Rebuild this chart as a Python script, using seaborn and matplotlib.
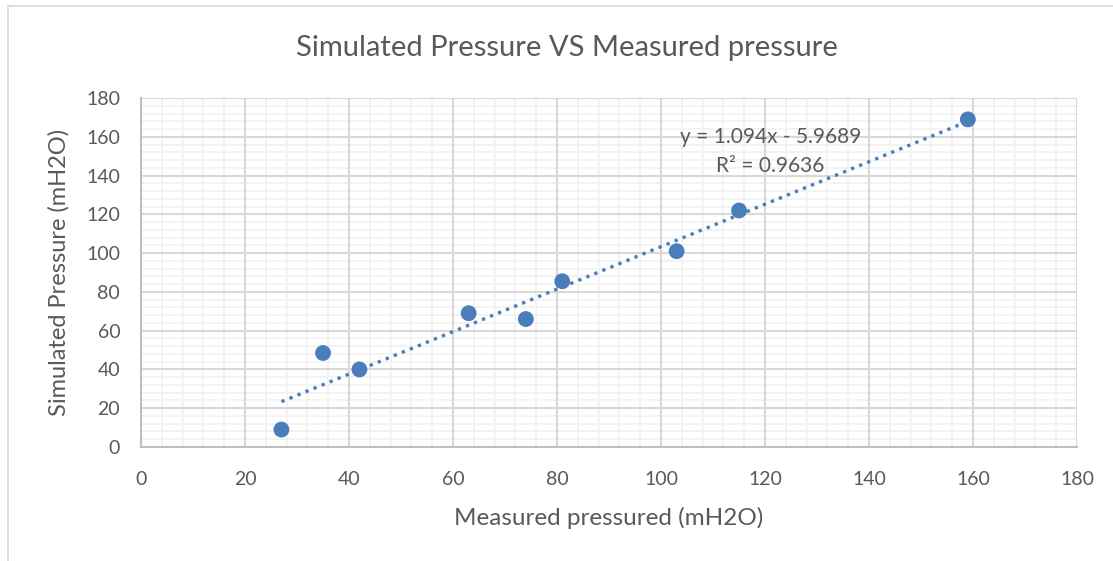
import numpy as np
import pandas as pd
import matplotlib
matplotlib.use('Agg')
import matplotlib.pyplot as plt
import seaborn as sns
from matplotlib.ticker import MultipleLocator
from matplotlib.patches import Rectangle

measured = [27, 35, 42, 63, 74, 81, 103, 115, 159]
simulated = [9, 48.5, 40, 69, 66, 85.5, 101, 122, 169]
equation_text = 'y = 1.094x - 5.9689'
r2_text = 'R² = 0.9636'

blue = '#4A7EBB'
text_grey = '#595959'

sns.set_style('white')
plt.rcParams['font.family'] = ['Lato', 'DejaVu Sans']

df = pd.DataFrame({'measured': measured, 'simulated': simulated})

fig = plt.figure(figsize=(11.13, 5.61), dpi=100)
ax = fig.add_axes([0.1267, 0.2032, 0.841, 0.622])

# chart frame
fig.patches.append(Rectangle((0.007, -0.05), 1.1, 1.04, transform=fig.transFigure,
                             fill=False, edgecolor='#D9D9D9', linewidth=1.2))

sns.regplot(data=df, x='measured', y='simulated', scatter=False, ci=None,
            truncate=True, ax=ax,
            line_kws={'color': blue, 'linestyle': (0, (1, 1.6)), 'linewidth': 2.4})
sns.scatterplot(data=df, x='measured', y='simulated', color=blue, s=130,
                edgecolor='none', ax=ax, zorder=4)

ax.set_xlim(0, 180)
ax.set_ylim(0, 180)
ax.xaxis.set_major_locator(MultipleLocator(20))
ax.yaxis.set_major_locator(MultipleLocator(20))
ax.xaxis.set_minor_locator(MultipleLocator(4))
ax.yaxis.set_minor_locator(MultipleLocator(4))
ax.grid(which='minor', color='#F2F2F2', linewidth=1.3)
ax.set_axisbelow(True)

# major gridlines drawn on top of the minor ones so they stay solid
for t in ax.get_xticks():
    ax.axvline(t, color='#D9D9D9', linewidth=1.5, zorder=0.9)
for t in ax.get_yticks():
    ax.axhline(t, color='#D9D9D9', linewidth=1.5, zorder=0.9)

for side in ['top', 'right']:
    ax.spines[side].set_visible(False)
for side in ['left', 'bottom']:
    ax.spines[side].set_color('#BFBFBF')
    ax.spines[side].set_linewidth(1.5)

ax.tick_params(which='both', length=0, labelsize=14, colors=text_grey)
ax.tick_params(axis='x', pad=17)
ax.tick_params(axis='y', pad=15)
ax.set_xlabel('Measured pressured (mH2O)', fontsize=17.5, color=text_grey, labelpad=14)
ax.set_ylabel('Simulated Pressure (mH2O)', fontsize=17, color=text_grey, labelpad=12)
ax.set_title('Simulated Pressure VS Measured pressure', fontsize=21, color=text_grey,
             pad=30, x=0.455)

ax.text(121, 160, equation_text, ha='center', va='center', fontsize=15, color=text_grey)
ax.text(121, 145, r2_text, ha='center', va='center', fontsize=15, color=text_grey)

ax.set_xlim(0, 180)
ax.set_ylim(0, 180)

plt.savefig('out.png', dpi=100)
plt.close()
